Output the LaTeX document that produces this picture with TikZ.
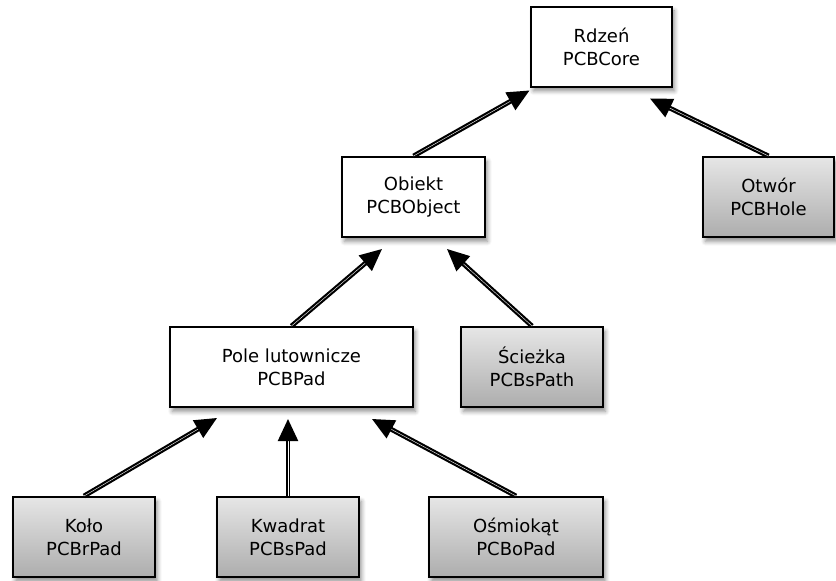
\documentclass[tikz,border=0pt]{standalone}
\usepackage{xcolor}
\usepackage{tikz}
\usetikzlibrary{arrows.meta,shadows.blur}
\usepackage{fontspec}
\setmainfont{DejaVu Sans}
\definecolor{pcbtop}{HTML}{E6E6E6}
\definecolor{pcbbottom}{HTML}{ADADAD}

\tikzset{
  cls/.style={draw=black,line width=1pt,fill=white,align=center,
    minimum height=40pt,inner sep=0pt,
    font=\fontsize{9}{11.5}\selectfont,
    blur shadow={shadow xshift=1.2pt,shadow yshift=-2.2pt,shadow blur steps=6,shadow opacity=45}},
  leaf/.style={cls,top color=pcbtop,bottom color=pcbbottom},
  inherit/.style={draw=black,line width=1.1pt,double=white,double distance=0.2pt,
    -{Triangle[length=11pt,width=10pt]}}
}

\begin{document}
\begin{tikzpicture}[x=0.5pt,y=-0.5pt]
  \useasboundingbox (0,0) rectangle (836,580);
  % classes
  \node[cls,minimum width=70.5pt] (core) at (601.5,46.5) {Rdzeń\\PCBCore};
  \node[cls,minimum width=71.5pt] (obj) at (413.5,197) {Obiekt\\PCBObject};
  \node[leaf,minimum width=65.5pt] (hole) at (768.5,197) {Otwór\\PCBHole};
  \node[cls,minimum width=121.5pt] (pad) at (291.5,367) {Pole lutownicze\\PCBPad};
  \node[leaf,minimum width=71pt] (path) at (532,367) {Ścieżka\\PCBsPath};
  \node[leaf,minimum width=71pt] (rpad) at (84,537) {Koło\\PCBrPad};
  \node[leaf,minimum width=71pt] (spad) at (288,537) {Kwadrat\\PCBsPad};
  \node[leaf,minimum width=87pt] (opad) at (516,537) {Ośmiokąt\\PCBoPad};
  % inheritance
  \draw[inherit] (obj.north) -- ([shift={(-72,3)}]core.south);
  \draw[inherit] (hole.north) -- ([shift={(48.5,11)}]core.south);
  \draw[inherit] (pad.north) -- ([shift={(-31.5,11)}]obj.south);
  \draw[inherit] (path.north) -- ([shift={(33.5,11)}]obj.south);
  \draw[inherit] (rpad.north) -- ([shift={(-74.5,10)}]pad.south);
  \draw[inherit] (spad.north) -- ([shift={(-3.5,11)}]pad.south);
  \draw[inherit] (opad.north) -- ([shift={(80.5,11)}]pad.south);
\end{tikzpicture}
\end{document}
